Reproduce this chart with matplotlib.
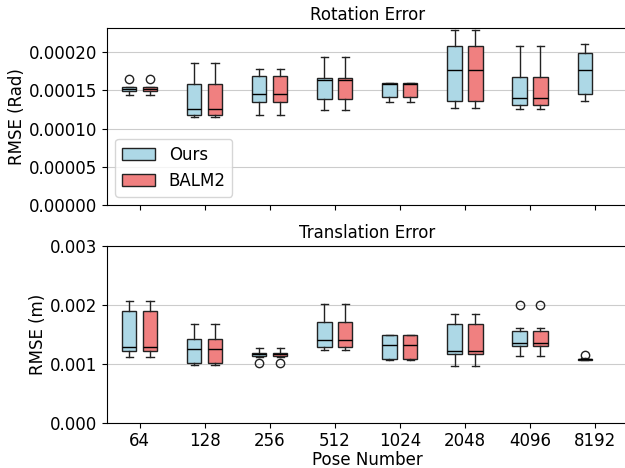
import matplotlib
matplotlib.use('Agg')
import matplotlib.pyplot as plt
from matplotlib.patches import Patch

pose_labels = ['64', '128', '256', '512', '1024', '2048', '4096', '8192']

# (whislo, q1, med, q3, whishi) per pose number
rot_ours = [
    (0.0001436, 0.0001485, 0.0001510, 0.0001537, 0.0001537),
    (0.0001149, 0.0001171, 0.0001249, 0.0001584, 0.0001854),
    (0.0001179, 0.0001341, 0.0001445, 0.0001693, 0.0001780),
    (0.0001236, 0.0001380, 0.0001632, 0.0001662, 0.0001936),
    (0.0001341, 0.0001415, 0.0001585, 0.0001589, 0.0001589),
    (0.0001262, 0.0001362, 0.0001771, 0.0002085, 0.0002285),
    (0.0001253, 0.0001306, 0.0001393, 0.0001671, 0.0002085),
    (0.0001362, 0.0001449, 0.0001771, 0.0001988, 0.0002102),
]
rot_ours_fliers = [[0.0001645], [], [], [], [], [], [], []]
rot_balm = rot_ours[:7]
rot_balm_fliers = rot_ours_fliers[:7]

trans_ours = [
    (0.001108, 0.001210, 0.001288, 0.001888, 0.002063),
    (0.000978, 0.001012, 0.001249, 0.001424, 0.001678),
    (0.001120, 0.001125, 0.001159, 0.001187, 0.001272),
    (0.001237, 0.001278, 0.001397, 0.001701, 0.002012),
    (0.001058, 0.001085, 0.001312, 0.001487, 0.001487),
    (0.000961, 0.001164, 0.001220, 0.001678, 0.001848),
    (0.001125, 0.001300, 0.001351, 0.001549, 0.001611),
    (0.001058, 0.001068, 0.001075, 0.001085, 0.001095),
]
trans_ours_fliers = [[], [], [0.001007], [], [], [], [0.001995], [0.001150]]
trans_balm = trans_ours[:7]
trans_balm_fliers = trans_ours_fliers[:7]


def to_stats(rows, fliers):
    out = []
    for (lo, q1, med, q3, hi), fl in zip(rows, fliers):
        out.append(dict(whislo=lo, q1=q1, med=med, q3=q3, whishi=hi, fliers=fl))
    return out


def draw(ax, ours, ours_fl, balm, balm_fl):
    pos = range(1, len(ours) + 1)
    for stats, fl, color, off in [(ours, ours_fl, 'lightblue', -0.16),
                                   (balm, balm_fl, 'lightcoral', 0.16)]:
        ax.bxp(to_stats(stats, fl), positions=[p + off for p in pos][:len(stats)],
               widths=0.22, patch_artist=True, manage_ticks=False,
               boxprops=dict(facecolor=color, edgecolor='#222222'),
               medianprops=dict(color='black'),
               whiskerprops=dict(color='#222222'),
               capprops=dict(color='#222222'),
               flierprops=dict(markeredgecolor='#222222'))
    ax.set_xlim(0.5, 8.5)
    ax.set_xticks(list(pos))
    ax.yaxis.grid(True, color='#cccccc')
    ax.set_axisbelow(True)


plt.rcParams['font.size'] = 12
fig = plt.figure(figsize=(6.25, 4.68), dpi=100)
ax1 = fig.add_axes([0.1712, 0.562, 0.833, 0.3775])
ax2 = fig.add_axes([0.1712, 0.0968, 0.833, 0.3776], sharex=ax1)

draw(ax1, rot_ours, rot_ours_fliers, rot_balm, rot_balm_fliers)
ax1.set_ylim(0, 0.000231)
ax1.set_yticks([0, 0.00005, 0.0001, 0.00015, 0.0002])
ax1.set_yticklabels(['0.00000', '0.00005', '0.00010', '0.00015', '0.00020'])
ax1.set_title('Rotation Error', fontsize=12)
ax1.set_ylabel('RMSE (Rad)', labelpad=2)
ax1.tick_params(labelbottom=False)
ax1.legend(handles=[Patch(facecolor='lightblue', edgecolor='#222222', label='Ours'),
                    Patch(facecolor='lightcoral', edgecolor='#222222', label='BALM2')],
           loc='lower left')

draw(ax2, trans_ours, trans_ours_fliers, trans_balm, trans_balm_fliers)
ax2.set_ylim(0, 0.003)
ax2.set_yticks([0, 0.001, 0.002, 0.003])
ax2.set_yticklabels(['0.000', '0.001', '0.002', '0.003'])
ax2.set_title('Translation Error', fontsize=12)
ax2.set_ylabel('RMSE (m)', labelpad=2)
ax2.set_xticklabels(pose_labels)
ax2.set_xlabel('Pose Number', labelpad=0.5)

fig.savefig('out.png', dpi=100)
